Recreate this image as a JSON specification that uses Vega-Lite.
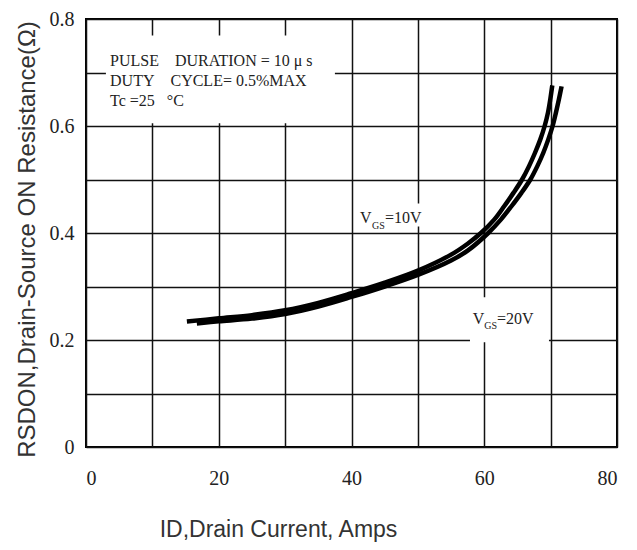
{
  "$schema": "https://vega.github.io/schema/vega-lite/v6.json",
  "width": 531,
  "height": 428,
  "autosize": "none",
  "padding": {"left": 86, "top": 19, "right": 20, "bottom": 103},
  "background": "white",
  "config": {
    "view": {"stroke": "black", "strokeWidth": 2},
    "axis": {
      "grid": true,
      "gridColor": "#111111",
      "gridWidth": 1.5,
      "gridOpacity": 1,
      "ticks": false,
      "domain": false,
      "labelFont": "Liberation Serif",
      "labelFontSize": 20,
      "labelColor": "#222222",
      "titleFont": "Liberation Sans",
      "titleFontSize": 23,
      "titleFontWeight": "normal",
      "titleColor": "#333333"
    }
  },
  "datasets": {
    "curves": [
      {"x": 15.2, "y": 0.2345, "s": "10V"},
      {"x": 20, "y": 0.2405, "s": "10V"},
      {"x": 25, "y": 0.2465, "s": "10V"},
      {"x": 30, "y": 0.2555, "s": "10V"},
      {"x": 35, "y": 0.2695, "s": "10V"},
      {"x": 40, "y": 0.2875, "s": "10V"},
      {"x": 45, "y": 0.307, "s": "10V"},
      {"x": 50, "y": 0.3296, "s": "10V"},
      {"x": 55, "y": 0.3595, "s": "10V"},
      {"x": 57.5, "y": 0.38, "s": "10V"},
      {"x": 59.5, "y": 0.4, "s": "10V"},
      {"x": 61.5, "y": 0.425, "s": "10V"},
      {"x": 63.0, "y": 0.45, "s": "10V"},
      {"x": 64.4, "y": 0.475, "s": "10V"},
      {"x": 65.7, "y": 0.5, "s": "10V"},
      {"x": 66.75, "y": 0.525, "s": "10V"},
      {"x": 67.65, "y": 0.55, "s": "10V"},
      {"x": 68.45, "y": 0.575, "s": "10V"},
      {"x": 69.1, "y": 0.6, "s": "10V"},
      {"x": 69.6, "y": 0.625, "s": "10V"},
      {"x": 69.95, "y": 0.65, "s": "10V"},
      {"x": 70.25, "y": 0.676, "s": "10V"},
      {"x": 16.7, "y": 0.231, "s": "20V"},
      {"x": 20, "y": 0.2348, "s": "20V"},
      {"x": 25, "y": 0.24, "s": "20V"},
      {"x": 30, "y": 0.2485, "s": "20V"},
      {"x": 35, "y": 0.2625, "s": "20V"},
      {"x": 40, "y": 0.2805, "s": "20V"},
      {"x": 45, "y": 0.3, "s": "20V"},
      {"x": 50, "y": 0.3216, "s": "20V"},
      {"x": 55, "y": 0.3485, "s": "20V"},
      {"x": 57.5, "y": 0.367, "s": "20V"},
      {"x": 60.6, "y": 0.4, "s": "20V"},
      {"x": 62.5, "y": 0.425, "s": "20V"},
      {"x": 64.1, "y": 0.45, "s": "20V"},
      {"x": 65.6, "y": 0.475, "s": "20V"},
      {"x": 66.95, "y": 0.5, "s": "20V"},
      {"x": 68.0, "y": 0.525, "s": "20V"},
      {"x": 68.9, "y": 0.55, "s": "20V"},
      {"x": 69.65, "y": 0.575, "s": "20V"},
      {"x": 70.3, "y": 0.6, "s": "20V"},
      {"x": 70.8, "y": 0.625, "s": "20V"},
      {"x": 71.25, "y": 0.65, "s": "20V"},
      {"x": 71.65, "y": 0.674, "s": "20V"}
    ],
    "boxes": [
      {"x": 3.0, "xe": 37.5, "y": 0.605, "ye": 0.769},
      {"x": 40.9, "xe": 50.8, "y": 0.412, "ye": 0.455},
      {"x": 57.85, "xe": 69.75, "y": 0.196, "ye": 0.28}
    ],
    "notes": [
      {"x": 3.62, "y": 0.7116, "t": "PULSE\u00a0\u00a0\u00a0\u00a0DURATION = 10 μ s"},
      {"x": 3.62, "y": 0.6742, "t": "DUTY\u00a0\u00a0\u00a0\u00a0CYCLE= 0.5%MAX"},
      {"x": 3.62, "y": 0.6368, "t": "Tc =25\u00a0\u00a0\u00a0°C"},
      {"x": 41.28, "y": 0.4187, "t": "V"},
      {"x": 45.05, "y": 0.4187, "t": "=10V"},
      {"x": 58.26, "y": 0.2307, "t": "V"},
      {"x": 61.92, "y": 0.2307, "t": "=20V"}
    ],
    "subs": [
      {"x": 43.09, "y": 0.408, "t": "GS"},
      {"x": 59.99, "y": 0.221, "t": "GS"}
    ]
  },
  "layer": [
    {
      "data": {"name": "boxes"},
      "mark": {"type": "rect", "fill": "white", "stroke": null},
      "encoding": {
        "x": {
          "field": "x",
          "type": "quantitative",
          "scale": {"domain": [0, 80], "nice": false, "zero": false},
          "axis": {
            "values": [0, 10, 20, 30, 40, 50, 60, 70, 80],
            "labelExpr": "datum.value % 20 === 0 ? datum.label : ''",
            "labelPadding": 21,
            "title": "ID,Drain Current, Amps",
            "titleX": 192,
            "titleY": 82,
            "titleAlign": "center",
            "titleBaseline": "middle"
          }
        },
        "x2": {"field": "xe"},
        "y": {
          "field": "y",
          "type": "quantitative",
          "scale": {"domain": [0, 0.8], "nice": false, "zero": false},
          "axis": {
            "values": [0, 0.1, 0.2, 0.3, 0.4, 0.5, 0.6, 0.7, 0.8],
            "labelExpr": "round(datum.value * 10) % 2 === 0 ? (datum.value === 0 ? '0' : format(datum.value, '.1f')) : ''",
            "labelPadding": 12,
            "title": "RSDON,Drain-Source ON Resistance(Ω)",
            "titleFontSize": 24,
            "titleX": -59,
            "titleY": 220,
            "titleAlign": "center",
            "titleBaseline": "middle"
          }
        },
        "y2": {"field": "ye"}
      }
    },
    {
      "data": {"name": "curves"},
      "mark": {"type": "line", "interpolate": "catmull-rom", "strokeWidth": 4.5, "color": "black", "strokeCap": "butt"},
      "encoding": {
        "x": {"field": "x", "type": "quantitative"},
        "y": {"field": "y", "type": "quantitative"},
        "detail": {"field": "s"}
      }
    },
    {
      "data": {"name": "notes"},
      "mark": {"type": "text", "font": "Liberation Serif", "fontSize": 16, "align": "left", "baseline": "alphabetic", "color": "#222222"},
      "encoding": {
        "x": {"field": "x", "type": "quantitative"},
        "y": {"field": "y", "type": "quantitative"},
        "text": {"field": "t"}
      }
    },
    {
      "data": {"name": "subs"},
      "mark": {"type": "text", "font": "Liberation Serif", "fontSize": 10, "align": "left", "baseline": "alphabetic", "color": "#222222"},
      "encoding": {
        "x": {"field": "x", "type": "quantitative"},
        "y": {"field": "y", "type": "quantitative"},
        "text": {"field": "t"}
      }
    }
  ]
}
